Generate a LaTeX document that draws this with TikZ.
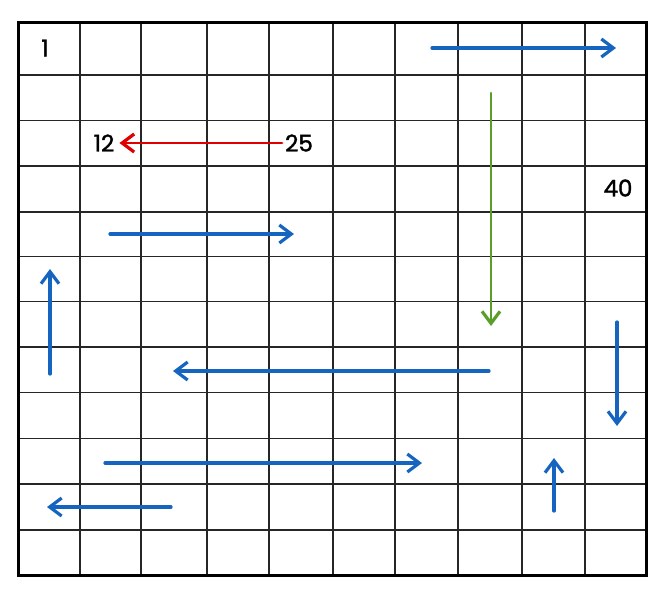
\documentclass[tikz,border=0pt]{standalone}
\usepackage{fontspec}
\setmainfont{Poppins}
\newfontfamily\numfont{Poppins}[FakeBold=1.6]
\usetikzlibrary{arrows.meta,calc}
\definecolor{ablue}{HTML}{1565C0}
\definecolor{ared}{HTML}{E00000}
\definecolor{agreen}{HTML}{5A9E2A}
\tikzset{
  gridline/.style={draw=black!85, line width=1.4pt},
  border/.style={draw=black, line width=3pt},
  arr/.style={line width=3.2pt, line cap=round, -{Straight Barb[length=12pt,width=18pt,line width=3.2pt]}},
  bluearr/.style={arr, draw=ablue},
  redarr/.style={arr, draw=ared, line width=2.9pt},
  greenarr/.style={arr, draw=agreen, line width=2.4pt},
  num/.style={font=\numfont\fontsize{23}{23}\selectfont, inner sep=0pt, text=black}
}
\begin{document}
\begin{tikzpicture}[x=1pt,y=-1pt]
\useasboundingbox (0,0) rectangle (666,600);
% grid
\foreach \x in {80,141,207,269,333,395,458,522,585}
  \draw[gridline] (\x,22) -- (\x,575);
\foreach \y in {75,120.5,166,212,256.5,301.5,347,392.5,438.3,484,530}
  \draw[gridline] (18,\y) -- (646,\y);
\draw[border] (18,22) rectangle (646,575);
% labels
\node[num] (n1) at (45,48) {1};
\node[num] (n12) at (104,143) {12};
\node[num] (n25) at (299,143) {25};
\node[num] (n40) at (618,188) {40};
% arrow end points
\coordinate (a1s) at (432,48);  \coordinate (a1e) at (616,48);
\coordinate (gs) at (491,93);   \coordinate (ge) at (491,326);
\coordinate (a2s) at (110,234); \coordinate (a2e) at (294,234);
\coordinate (a3s) at (50,374);  \coordinate (a3e) at (50,269);
\coordinate (a4s) at (489,371); \coordinate (a4e) at (173,371);
\coordinate (a5s) at (617,322); \coordinate (a5e) at (617,426);
\coordinate (a6s) at (105,463); \coordinate (a6e) at (422,463);
\coordinate (a7s) at (554,511); \coordinate (a7e) at (554,458);
\coordinate (a8s) at (171,507); \coordinate (a8e) at (47,507);
% arrows
\draw[redarr] ($(n25.west)+(-3,0)$) -- ($(n12.east)+(5,0)$);
\draw[greenarr] (gs) -- (ge);
\foreach \s/\e in {a1s/a1e,a2s/a2e,a3s/a3e,a4s/a4e,a5s/a5e,a6s/a6e,a7s/a7e,a8s/a8e}
  \draw[bluearr] (\s) -- (\e);
\end{tikzpicture}
\end{document}
